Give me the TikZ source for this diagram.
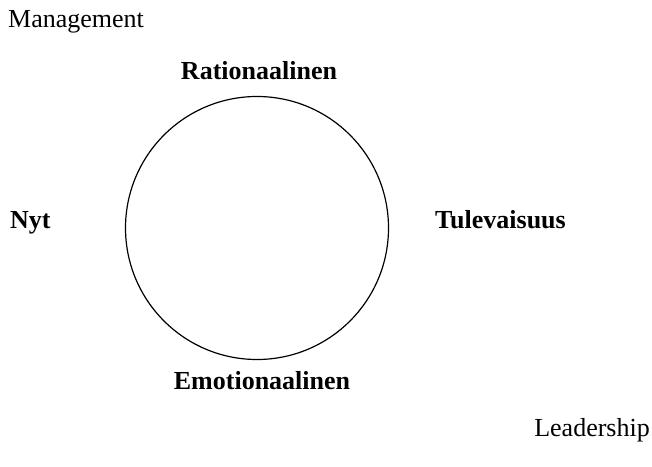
\documentclass[tikz,border=0pt]{standalone}
\usepackage{fontspec}
\setmainfont{Liberation Serif}
\usetikzlibrary{positioning}

\begin{document}
\begin{tikzpicture}[x=1pt,y=1pt,
    axislabel/.style={font=\fontsize{26}{28}\selectfont\bfseries, inner sep=0pt},
    cornerlabel/.style={font=\fontsize{26}{28}\selectfont, inner sep=0pt}]
    \useasboundingbox (0,0) rectangle (652,466);
    % Circle in the middle:
    \node[draw, circle, line width=1.2pt, minimum size=263pt, inner sep=0pt] (wheel) at (257,238) {};
    % Labels round it:
    \node[axislabel, anchor=base] (rat) at (259,386) {Rationaalinen};
    \node[axislabel, anchor=base] (emo) at (262,77) {Emotionaalinen};
    \node[axislabel, anchor=base west] (nyt) at (10,237) {Nyt};
    \node[axislabel, anchor=base west] (tul) at (435,237) {Tulevaisuus};
    % Corners:
    \node[cornerlabel, anchor=base west] (man) at (8,438) {Management};
    \node[cornerlabel, anchor=base east] (lead) at (650,30) {Leadership};
\end{tikzpicture}
\end{document}
